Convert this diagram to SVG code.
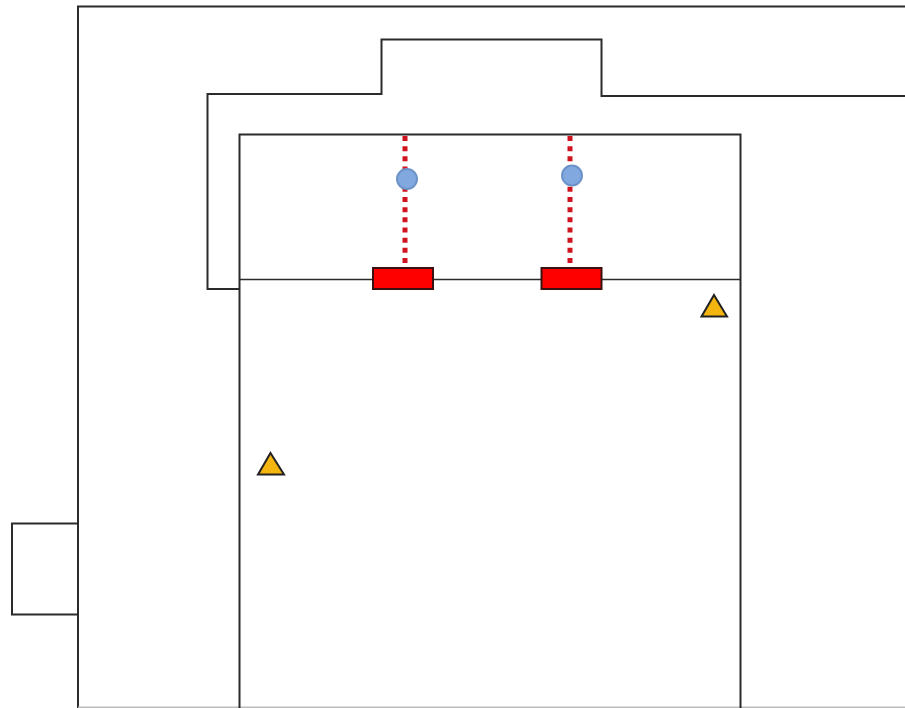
<svg xmlns="http://www.w3.org/2000/svg" width="905" height="708" viewBox="0 0 905 708">
<style>
.w{fill:none;stroke:#2b2b2b;stroke-width:2}
.d{fill:none;stroke:#d0141f;stroke-width:5;stroke-dasharray:5 5.170}
.v{fill:#f00;stroke:#3a1010;stroke-width:2}
.s{fill:#82a8e0;stroke:#6c93c8;stroke-width:2}
.t{fill:#f5b50f;stroke:#222;stroke-width:2;stroke-linejoin:miter}
</style>
<rect width="905" height="708" fill="#fff"/>
<g id="plan">
<path class="w" d="M905 6.500H78V708"/>
<path class="w" style="stroke:#bbb" d="M78 707.500H905"/>
<path class="w" d="M78 523.500H12V614.500H78"/>
<path class="w" d="M905 96H601.500V39.500H381.500V94H207.500V289H239.500"/>
<path class="w" d="M239.500 708V134.500H740.500V708"/>
<path class="w" style="stroke-width:1.600" d="M239.500 279.500H740.500"/>
</g>
<g id="connectors">
<path class="d" d="M405 136V264"/>
<path class="d" d="M570 136V264"/>
</g>
<g id="valve-1"><rect class="v" x="373" y="268" width="60" height="21"/></g>
<g id="valve-2"><rect class="v" x="541.500" y="268" width="60" height="21"/></g>
<g id="sensor-1"><circle class="s" cx="407" cy="179" r="10"/></g>
<g id="sensor-2"><circle class="s" cx="572" cy="175.500" r="10"/></g>
<g id="marker-1"><polygon class="t" points="714,295 727,316.500 701.500,316.500"/></g>
<g id="marker-2"><polygon class="t" points="270.500,453 284,474.500 258,474.500"/></g>
</svg>
